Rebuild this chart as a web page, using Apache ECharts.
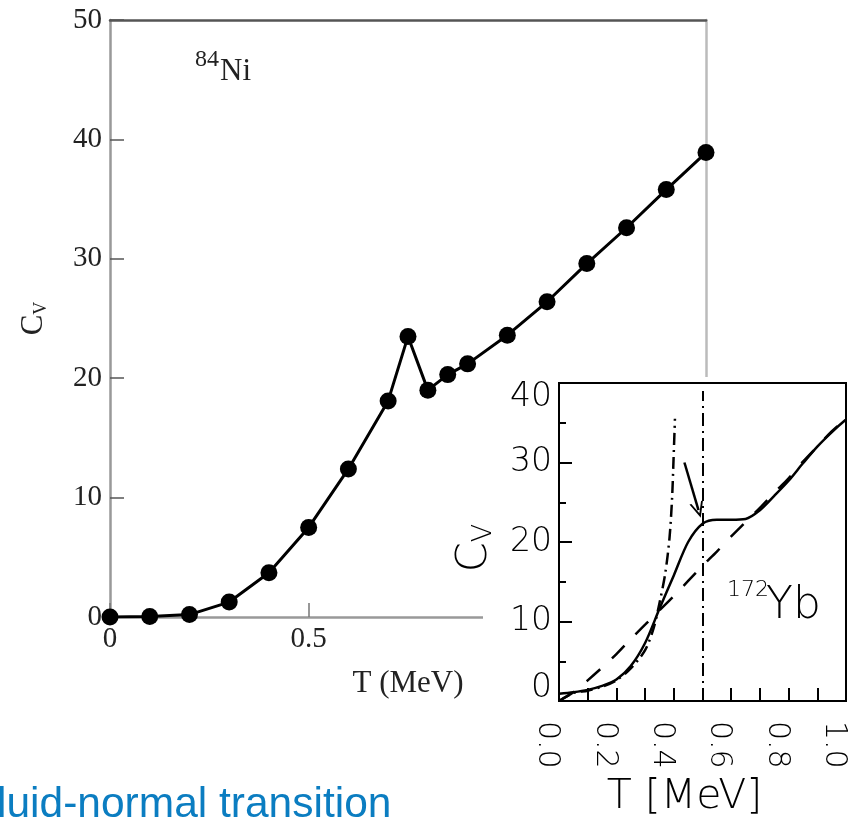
<!DOCTYPE html>
<html>
<head>
<meta charset="utf-8">
<script src="https://cdn.jsdelivr.net/npm/echarts@6/dist/echarts.min.js"></script>
<style>
  html, body { margin: 0; padding: 0; background: #fff; }
  #chart { width: 850px; height: 820px; }
</style>
</head>
<body>
<div id="chart"></div>
<script>
// main plot: 84Ni, Cv vs T
const mainT = [0, 0.1, 0.2, 0.3, 0.4, 0.5, 0.6, 0.7, 0.75, 0.8, 0.85, 0.9, 1.0, 1.1, 1.2, 1.3, 1.4, 1.5]
const mainCv = [0, 0.05, 0.2, 1.25, 3.7, 7.5, 12.4, 18.1, 23.5, 19.0, 20.3, 21.2, 23.6, 26.4, 29.6, 32.6, 35.8, 38.9]

// inset: 172Yb
const insetT = [0, 0.05, 0.1, 0.15, 0.2, 0.25, 0.3, 0.35, 0.4, 0.45, 0.5, 0.55, 0.6, 0.65, 0.7, 0.75, 0.8, 0.85, 0.9, 0.95, 1.0]
const solidCv = [0.9, 1.1, 1.4, 1.9, 2.7, 4.4, 7.3, 11.6, 15.8, 20.0, 22.3, 22.8, 22.8, 22.9, 24.0, 25.8, 27.7, 29.9, 32.0, 33.8, 35.4]
const dashedCv = [0, 1.1, 2.6, 4.2, 5.9, 7.8, 9.6, 11.4, 13.2, 15.1, 17.0, 18.8, 20.7, 22.5, 24.3, 26.2, 28.0, 30.1, 32.0, 33.9, 35.5]
const dashDotT = [0, 0.05, 0.1, 0.15, 0.2, 0.25, 0.3, 0.33, 0.35, 0.37, 0.385, 0.394, 0.399, 0.404]
const dashDotCv = [0, 1.0, 1.3, 1.8, 2.6, 4.1, 6.4, 9.2, 12.3, 16.0, 20.5, 25.5, 30.3, 35.5]
const criticalT = 0.5
const arrowFrom = [0.437, 30.0]
const arrowTo = [0.486, 24.0]

const mainXTicks = ['0', '0.5']

const zip = (xs, ys) => xs.map((x, i) => [x, ys[i]])

const serif = 'Liberation Serif'
const sans = 'DejaVu Sans'

const chart = echarts.init(document.getElementById('chart'), null, { renderer: 'canvas' })

const thin = { fontFamily: sans, fontWeight: 200, color: '#000' }

chart.setOption({
  animation: false,
  backgroundColor: '#fff',
  grid: [
    { left: 110, top: 20, width: 596, height: 597, show: false },
    { left: 559, top: 383, width: 287, height: 318, show: true, borderColor: '#000', borderWidth: 2, backgroundColor: 'transparent', z: 5 },
  ],
  xAxis: [
    {
      gridIndex: 0,
      type: 'value',
      min: 0,
      max: 1.5,
      interval: 0.5,
      axisLine: { lineStyle: { color: '#999', width: 2.5 } },
      axisTick: { inside: true, length: 14, lineStyle: { color: '#777', width: 1.5 } },
      axisLabel: {
        margin: 8,
        color: '#222',
        fontFamily: serif,
        fontSize: 29,
        formatter: (v) => mainXTicks[Math.round(v / 0.5)] || '',
      },
      splitLine: { show: false },
      name: 'T (MeV)',
      nameLocation: 'middle',
      nameGap: 51,
      nameTextStyle: { color: '#222', fontFamily: serif, fontSize: 31 },
    },
    {
      gridIndex: 0,
      type: 'value',
      position: 'top',
      min: 0,
      max: 1.5,
      axisLine: { onZero: false, lineStyle: { color: '#555', width: 2.5 } },
      axisTick: { show: false },
      axisLabel: { show: false },
      splitLine: { show: false },
    },
    {
      gridIndex: 1,
      type: 'value',
      min: 0,
      max: 1,
      interval: 0.2,
      z: 6,
      axisLine: { onZero: false, lineStyle: { color: '#000', width: 2 } },
      axisTick: { inside: true, length: 13, lineStyle: { color: '#000', width: 2 } },
      minorTick: { show: true, splitNumber: 2, length: 13, lineStyle: { color: '#000', width: 2 } },
      axisLabel: {
        rotate: -90,
        margin: 20,
        formatter: (v) => '{t|' + v.toFixed(1) + '}',
        rich: {
          t: { ...thin, fontSize: 30, padding: [24, 0, 0, 0] },
        },
      },
      splitLine: { show: false },
      name: 'T [MeV]',
      nameLocation: 'middle',
      nameGap: 76,
      nameTextStyle: { ...thin, fontSize: 41, padding: [0, 36, 0, 0] },
    },
  ],
  yAxis: [
    {
      gridIndex: 0,
      type: 'value',
      min: 0,
      max: 50,
      interval: 10,
      axisLine: { show: true, lineStyle: { color: '#999', width: 2.5 } },
      axisTick: { show: true, inside: true, length: 14, lineStyle: { color: '#555', width: 1.5 } },
      axisLabel: { margin: 8, color: '#222', fontFamily: serif, fontSize: 29 },
      splitLine: { show: false },
      name: '{c|C}{v|V}',
      nameLocation: 'middle',
      nameRotate: 90,
      nameGap: 60,
      nameTextStyle: {
        rich: {
          c: { fontFamily: serif, fontSize: 31, color: '#222', lineHeight: 32, verticalAlign: 'top' },
          v: { fontFamily: serif, fontSize: 18, color: '#222', lineHeight: 18, verticalAlign: 'bottom' },
        },
      },
    },
    {
      gridIndex: 0,
      type: 'value',
      position: 'right',
      min: 0,
      max: 50,
      axisLine: { show: true, onZero: false, lineStyle: { color: '#bbb', width: 2.5 } },
      axisTick: { show: false },
      axisLabel: { show: false },
      splitLine: { show: false },
    },
    {
      gridIndex: 1,
      type: 'value',
      min: 0,
      max: 40,
      interval: 10,
      z: 6,
      axisLine: { show: true, onZero: false, lineStyle: { color: '#000', width: 2 } },
      axisTick: { show: true, inside: true, length: 13, lineStyle: { color: '#000', width: 2 } },
      minorTick: { show: true, splitNumber: 2, length: 7, lineStyle: { color: '#000', width: 2 } },
      axisLabel: {
        margin: 7,
        ...thin,
        fontSize: 33,
        formatter: (v) => {
          if (v === 0) return '{lo|0}'
          if (v === 40) return '{hi|40}'
          return String(v)
        },
        rich: {
          lo: { ...thin, fontSize: 33, padding: [0, 0, 26, 0] },
          hi: { ...thin, fontSize: 33, padding: [28, 0, 0, 0] },
        },
      },
      splitLine: { show: false },
      name: '{c|C}{v|V}',
      nameLocation: 'middle',
      nameRotate: 90,
      nameGap: 62,
      nameTextStyle: {
        padding: [0, 12, 0, 0],
        rich: {
          c: { ...thin, fontSize: 43, lineHeight: 44, verticalAlign: 'top' },
          v: { ...thin, fontSize: 27, lineHeight: 26, verticalAlign: 'bottom' },
        },
      },
    },
  ],
  graphic: [
    // white backing of the inset picture, covering the main plot underneath
    { type: 'rect', z: 3, shape: { x: 483, y: 377, width: 367, height: 443 }, style: { fill: '#fff' } },
    { type: 'text', z: 4, x: 195, y: 60, style: { text: '84', font: `24px "${serif}"`, fill: '#222', verticalAlign: 'middle' } },
    { type: 'text', z: 4, x: 220, y: 72, style: { text: 'Ni', font: `31px "${serif}"`, fill: '#222', verticalAlign: 'middle' } },
    { type: 'text', z: 8, x: 727, y: 590, style: { text: '172', font: `200 22px "${sans}"`, fill: '#000', verticalAlign: 'middle' } },
    { type: 'text', z: 8, x: 766, y: 607, style: { text: 'Yb', font: `200 44px "${sans}"`, fill: '#000', verticalAlign: 'middle' } },
    { type: 'text', z: 8, x: -3, y: 805, style: { text: 'luid-normal transition', font: '42.5px "Liberation Sans"', fill: '#0b7dc1', verticalAlign: 'middle' } },
  ],
  series: [
    {
      name: '84Ni',
      type: 'line',
      xAxisIndex: 0,
      yAxisIndex: 0,
      data: zip(mainT, mainCv),
      symbol: 'circle',
      symbolSize: 17,
      lineStyle: { color: '#000', width: 3 },
      itemStyle: { color: '#000' },
      z: 2,
    },
    {
      name: 'solid',
      type: 'line',
      xAxisIndex: 2,
      yAxisIndex: 2,
      data: zip(insetT, solidCv),
      showSymbol: false,
      smooth: 0.3,
      lineStyle: { color: '#000', width: 2.5 },
      z: 7,
    },
    {
      name: 'dashed',
      type: 'line',
      xAxisIndex: 2,
      yAxisIndex: 2,
      data: zip(insetT, dashedCv),
      showSymbol: false,
      smooth: 0.3,
      lineStyle: { color: '#000', width: 2.5, type: [18, 16] },
      z: 7,
    },
    {
      name: 'dashdot',
      type: 'line',
      xAxisIndex: 2,
      yAxisIndex: 2,
      data: zip(dashDotT, dashDotCv),
      showSymbol: false,
      smooth: 0.3,
      lineStyle: { color: '#000', width: 2.5, type: [12, 5, 2, 5] },
      z: 7,
      markLine: {
        silent: true,
        symbol: 'none',
        label: { show: false },
        data: [
          [
            { coord: [criticalT, 0], lineStyle: { color: '#000', width: 2, type: [13, 5, 2, 5] } },
            { coord: [criticalT, 39] },
          ],
          [
            { coord: arrowFrom, symbol: 'none', lineStyle: { color: '#000', width: 2.5, type: 'solid' } },
            { coord: arrowTo, symbol: 'path://M0,10 L5,0 L10,10 L8.6,10 L5,3 L1.4,10 Z', symbolSize: [14, 16] },
          ],
        ],
      },
    },
  ],
})
</script>
</body>
</html>
